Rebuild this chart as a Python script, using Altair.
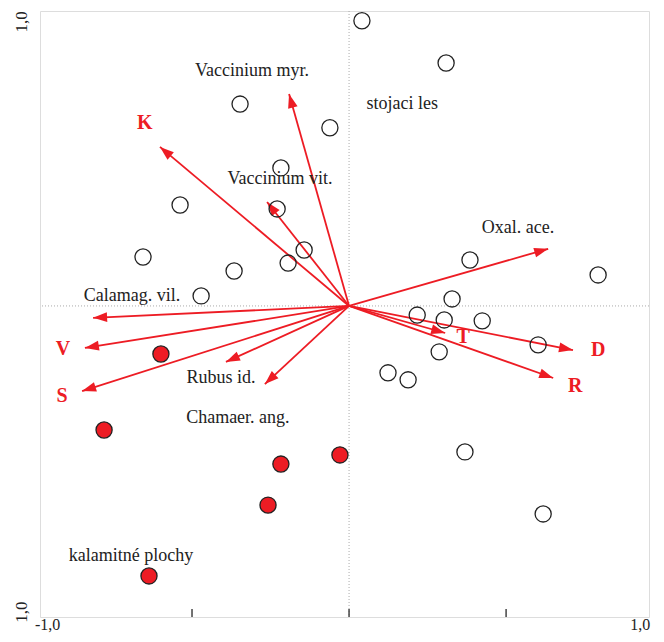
import math
import altair as alt
import pandas as pd

# --- data ---
open_x = [0.041, 0.309, -0.347, -0.061, -0.217, -0.538, -0.229, -0.143, -0.656, -0.194,
          -0.366, 0.385, 0.793, -0.471, 0.328, 0.217, 0.303, 0.424, 0.602, 0.287,
          0.124, 0.188, 0.369, 0.618]
open_y = [0.938, 0.799, 0.664, 0.586, 0.454, 0.332, 0.319, 0.184, 0.161, 0.141,
          0.115, 0.151, 0.102, 0.033, 0.023, -0.030, -0.046, -0.049, -0.128, -0.151,
          -0.220, -0.243, -0.480, -0.684]

red_x = [-0.599, -0.780, -0.217, -0.029, -0.258, -0.637]
red_y = [-0.158, -0.408, -0.520, -0.490, -0.655, -0.888]

arrow_names = ["Vaccinium myr.", "K", "Vaccinium vit.", "Oxal. ace.", "Calamag. vil.", "V",
               "S", "Rubus id.", "Chamaer. ang.", "T", "D", "R"]
arrow_x = [-0.191, -0.602, -0.261, 0.634, -0.815, -0.841, -0.850, -0.392, -0.268, 0.306, 0.713, 0.650]
arrow_y = [0.697, 0.523, 0.342, 0.188, -0.039, -0.138, -0.280, -0.184, -0.257, -0.089, -0.145, -0.237]

# species labels (black) and environmental labels (red)
species_labels = ["Vaccinium myr.", "Vaccinium vit.", "Oxal. ace.", "Calamag. vil.", "Rubus id.",
                  "Chamaer. ang.", "stojaci les", "kalamitné plochy"]
species_lx = [-0.309, -0.220, 0.538, -0.691, -0.408, -0.354, 0.169, -0.694]
species_ly = [0.773, 0.418, 0.257, 0.033, -0.237, -0.368, 0.664, -0.822]

env_labels = ["K", "V", "S", "T", "D", "R"]
env_lx = [-0.650, -0.911, -0.914, 0.363, 0.793, 0.720]
env_ly = [0.602, -0.141, -0.296, -0.102, -0.145, -0.263]

x_tick_vals = [-0.5, 0.0, 0.5]
y_tick_vals = [-1.0, -0.5, 0.0, 0.5]
x_axis_labels = ["-1,0", "1,0"]
x_axis_label_pos = [-0.96, 0.927]
y_axis_labels = ["1,0", "1,0"]
y_axis_label_pos = [0.934, -1.007]

XDOM = [-0.984, 0.955]
YDOM = [-1.023, 0.970]
W, H = 609, 606
RED = "#ed1c24"
SERIF = "Liberation Serif"

sx = W / (XDOM[1] - XDOM[0])
sy = H / (YDOM[1] - YDOM[0])

arrows = pd.DataFrame({"name": arrow_names, "x": arrow_x, "y": arrow_y})
arrows["x0"] = 0.0
arrows["y0"] = 0.0
arrows["angle"] = [
    (math.degrees(math.atan2(x * sx, y * sy)) + 360) % 360 for x, y in zip(arrow_x, arrow_y)
]

xs = alt.Scale(domain=XDOM, nice=False, zero=False)
ys = alt.Scale(domain=YDOM, nice=False, zero=False)

X = lambda f: alt.X(f, type="quantitative", scale=xs, axis=None)
Y = lambda f: alt.Y(f, type="quantitative", scale=ys, axis=None)

# axes
base_axes = alt.Chart(pd.DataFrame({"x": [0.0], "y": [0.0]})).mark_point(opacity=0).encode(
    x=alt.X("x:Q", scale=xs, axis=alt.Axis(values=x_tick_vals, ticks=False, labels=False,
                                            domainColor="#333", domainWidth=1.5, grid=False, title=None)),
    y=alt.Y("y:Q", scale=ys, axis=alt.Axis(values=y_tick_vals, ticks=True, tickSize=8, labels=False,
                                            tickColor="#444", tickWidth=1.5,
                                            domainColor="#333", domainWidth=1.5, grid=False, title=None)),
)

vline = alt.Chart(pd.DataFrame({"x": [0.0]})).mark_rule(color="#aaa", strokeDash=[1, 2], strokeWidth=1).encode(
    x=X("x"))
hline = alt.Chart(pd.DataFrame({"y": [0.0]})).mark_rule(color="#aaa", strokeDash=[1, 2], strokeWidth=1).encode(
    y=Y("y"))

bottom_ticks = alt.Chart(pd.DataFrame({"x": x_tick_vals})).mark_rule(color="#444", strokeWidth=1.5).encode(
    x=X("x"), y=alt.value(H), y2=alt.value(H - 8))

xlab = alt.Chart(pd.DataFrame({"t": x_axis_labels, "x": x_axis_label_pos})).mark_text(
    font=SERIF, fontSize=16, color="#222", baseline="alphabetic").encode(
    x=X("x"), y=alt.value(H + 13), text="t:N")
ylab = alt.Chart(pd.DataFrame({"t": y_axis_labels, "y": y_axis_label_pos})).mark_text(
    font=SERIF, fontSize=17, color="#222", baseline="middle", angle=270).encode(
    x=alt.value(-18), y=Y("y"), text="t:N")

lines = alt.Chart(arrows).mark_rule(color=RED, strokeWidth=1.8).encode(
    x=X("x0"), y=Y("y0"), x2="x", y2="y")
heads = alt.Chart(arrows).mark_point(
    shape="M0,0 L-0.7,2 L0.7,2 Z", filled=True, color=RED, opacity=1, size=196).encode(
    x=X("x"), y=Y("y"), angle=alt.Angle("angle:Q", scale=None))

open_pts = alt.Chart(pd.DataFrame({"x": open_x, "y": open_y})).mark_point(
    shape="circle", filled=False, color="#222", strokeWidth=1.3, size=260, opacity=1).encode(
    x=X("x"), y=Y("y"))
red_pts = alt.Chart(pd.DataFrame({"x": red_x, "y": red_y})).mark_point(
    shape="circle", filled=True, fill=RED, stroke="#222", strokeWidth=1.3, size=260, opacity=1).encode(
    x=X("x"), y=Y("y"))

sp_text = alt.Chart(pd.DataFrame({"t": species_labels, "x": species_lx, "y": species_ly})).mark_text(
    font=SERIF, fontSize=18, color="#222", baseline="middle").encode(
    x=X("x"), y=Y("y"), text="t:N")
env_text = alt.Chart(pd.DataFrame({"t": env_labels, "x": env_lx, "y": env_ly})).mark_text(
    font=SERIF, fontSize=20, fontWeight="bold", color=RED, baseline="middle").encode(
    x=X("x"), y=Y("y"), text="t:N")

chart = alt.layer(
    base_axes, vline, hline, bottom_ticks, lines, heads, open_pts, red_pts, sp_text, env_text, xlab, ylab
).properties(
    width=W, height=H,
    autosize=alt.AutoSizeParams(type="none"),
    padding={"left": 32, "top": 3, "right": 7, "bottom": 17},
).configure_view(stroke="#888", strokeWidth=1.5).configure(background="white")

chart.save("out.html", embed_options={"renderer": "svg", "actions": False})
